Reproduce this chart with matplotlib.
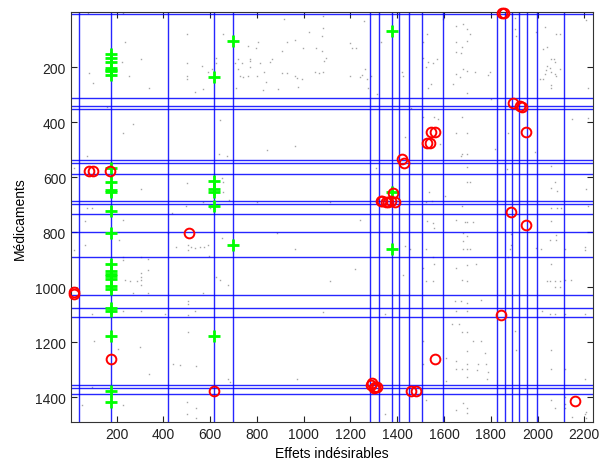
import matplotlib
matplotlib.use("Agg")
import matplotlib.pyplot as plt

plt.rcParams["font.family"] = ["Liberation Sans", "DejaVu Sans"]

# positions of the blue marker lines (columns = effets, rows = medicaments)
vlines_x = [41, 175, 421, 617, 699, 1285, 1322, 1378, 1409, 1451, 1506, 1595,
            1826, 1860, 1892, 1922, 1954, 1997, 2113]
hlines_y = [6, 313, 340, 352, 537, 549, 587, 685, 697, 733, 800, 891, 1027,
            1075, 1109, 1354, 1366, 1388]

# green "+" entries
green_x = [175, 175, 175, 175, 175, 175, 175,
           175, 175, 175, 175,
           175, 175, 175, 175, 175, 175, 175, 175, 175, 175, 175, 175, 175,
           175,
           617, 617, 617, 617, 617, 617,
           699, 699,
           1378, 1378, 1378]
green_y = [150, 166, 182, 204, 210, 214, 227,
           568, 616, 645, 655,
           721, 801, 916, 940, 950, 960, 970, 994, 1006, 1074, 1088, 1176, 1379,
           1416,
           234, 615, 643, 655, 703, 1179,
           103, 846,
           69, 652, 862]

# red "o" entries
red_x = [80, 101, 170, 510, 18, 18, 175, 617,
         1422, 1429, 1329, 1337, 1351, 1361, 1372, 1389, 1382,
         1846, 1858, 1895, 1924, 1934, 1952, 1546, 1563, 1527, 1542, 1885,
         1952, 1845, 1563, 2162,
         1287, 1294, 1301, 1304, 1315, 1458, 1479]
red_y = [576, 576, 576, 804, 1018, 1026, 1262, 1379,
         533, 548, 685, 685, 689, 691, 685, 689, 657,
         2, 2, 330, 342, 346, 436, 436, 436, 476, 476, 727,
         773, 1101, 1262, 1413,
         1355, 1349, 1367, 1361, 1361, 1379, 1379]

# grey background entries of the sparse matrix
grey_x = [77, 229, 503, 654, 236, 225, 305, 255, 80, 98, 339, 499, 499, 499,
          567, 590, 607, 571, 536, 624, 624, 707, 718, 738, 721, 728, 710, 740,
          269, 226, 643, 638, 671, 73, 305, 503, 650, 657, 640, 657, 682, 571,
          497, 73, 94, 436, 600, 18, 158,
          916, 1084, 1258, 1023, 1084, 1080, 806, 930, 963, 760, 798, 906, 999,
          1052, 1080, 1198, 1208, 1223, 1330, 771, 771, 814, 856, 864, 1094,
          1087, 771, 831, 762, 802, 906, 928, 963, 970, 995, 1049, 1066, 1083,
          1198, 1241, 1251, 1261, 1272, 1290, 841, 977, 824, 891, 1277, 1312,
          1419, 1425, 1458, 1434, 962, 845, 1311, 802, 1111,
          1596, 1650, 1681, 1700, 1710, 1529, 1510, 1650, 1700, 1679, 1653,
          1671, 1510, 1532, 1553, 1572, 1525, 1681, 1650, 1667, 1700, 1731,
          1788, 1795, 1546, 1532, 1639, 1700, 1905, 1902, 1907, 1992, 2031,
          2078, 2095, 2023, 2042, 2059, 2070, 2073, 2042, 2052, 2035, 2031,
          2059, 2073, 2080, 2095, 2009, 2023, 2056, 2059, 2209, 2216, 1510,
          1557, 1575, 1679, 1582, 1650, 1700, 1874, 1988, 1679, 1700, 1674,
          1817, 1700, 1871, 2056, 1700, 1710, 1536, 1603, 1525, 1550, 1679,
          2076, 2056, 2085, 2056, 2085, 2102, 2209, 1800, 2216, 2147, 2216,
          65, 226, 18, 63, 212, 226, 226, 305, 305, 305, 333, 236, 258, 286,
          305, 269, 333, 454, 504, 519, 504, 536, 557, 574, 590, 650, 624, 643,
          675, 571, 504, 504, 536, 226, 305, 94, 407, 504, 105, 208, 300, 504,
          339, 443, 472, 540, 678, 685, 94, 226, 51, 500, 540, 500, 540, 305,
          333, 597, 419,
          1240, 888, 962, 1218, 1111, 1084, 970, 1347, 1347, 1433, 1453, 1423,
          1529, 1553, 1557, 1650, 1689, 1700, 1724, 1681, 1700, 1681, 1681,
          1700, 1710, 1525, 1553, 1557, 1510, 1525, 1553, 1679, 1700, 1650,
          1700, 1738, 1646, 1674, 1700, 1757, 1650, 1700, 1636, 1664, 1679,
          1700, 1724, 1760, 1700, 1774, 1650, 1700, 1746, 1781, 1650, 1679,
          1700, 1743, 1788, 1700, 1785, 1607, 1607, 1510, 1510, 1525, 1681,
          1700, 1700, 1650, 1885, 1885, 1881, 1874, 1902, 1907, 1995, 2016,
          2059, 2078, 2078, 2052, 2116, 2202, 2202, 2059, 2052, 2073, 2095,
          2073, 2095, 2042, 2116, 2145, 2019, 2052, 2073, 2116, 2202, 2056,
          2056, 2116, 2202, 2056, 2073, 2116, 2116, 2116, 2147, 2202, 2209,
          2209]
grey_y = [3, 3, 79, 79, 107, 180, 170, 230, 221, 257, 275, 186, 230, 243,
          196, 216, 206, 279, 291, 167, 186, 184, 170, 184, 206, 230, 275, 236,
          406, 440, 392, 515, 521, 521, 642, 621, 604, 618, 649, 652, 681, 689,
          706, 710, 710, 730, 710, 567, 346,
          24, 15, 30, 73, 57, 85, 107, 107, 100, 121, 131, 140, 130, 130, 140,
          112, 131, 131, 107, 170, 178, 186, 180, 170, 167, 178, 200, 216, 230,
          230, 221, 221, 230, 239, 243, 216, 221, 216, 230, 236, 228, 206, 243,
          230, 252, 270, 281, 279, 275, 297, 216, 230, 349, 452, 487, 501, 567,
          689, 689,
          24, 49, 43, 61, 79, 79, 109, 109, 103, 125, 146, 149, 167, 182, 186,
          170, 200, 206, 224, 236, 212, 216, 228, 218, 261, 276, 261, 293, 22,
          61, 85, 73, 55, 79, 79, 133, 127, 170, 170, 182, 194, 204, 209, 224,
          216, 224, 230, 206, 243, 243, 264, 276, 28, 275, 382, 382, 388, 382,
          479, 440, 440, 440, 507, 515, 515, 521, 497, 564, 570, 560, 616, 616,
          652, 669, 689, 685, 706, 616, 640, 649, 712, 712, 712, 643, 315, 703,
          388, 386,
          759, 755, 864, 846, 828, 889, 901, 949, 961, 973, 937, 973, 977, 977,
          992, 1022, 1022, 852, 846, 852, 864, 858, 852, 852, 846, 822, 961,
          973, 992, 1022, 1050, 1062, 1086, 1088, 1088, 1097, 1098, 1101, 1195,
          1224, 1219, 1161, 1316, 1279, 1282, 1285, 1333, 1343, 1364, 1428,
          1428, 1416, 1440, 1462, 1476, 889, 897, 885, 804,
          755, 801, 862, 933, 977, 1091, 1333, 1098, 1462, 850, 862, 955,
          759, 767, 785, 755, 761, 761, 761, 804, 812, 832, 862, 862, 862, 862,
          889, 916, 929, 977, 977, 973, 977, 929, 919, 916, 1050, 1050, 1058,
          1046, 1088, 1088, 1135, 1135, 1161, 1164, 1195, 1195, 1232, 1240,
          1270, 1280, 1280, 1280, 1297, 1297, 1297, 1301, 1309, 1328, 1333,
          1258, 1341, 1195, 1280, 1410, 1422, 1440, 1458, 1446, 807, 846, 862,
          889, 1159, 1228, 858, 862, 759, 810, 828, 828, 862, 852, 864, 916,
          977, 977, 977, 998, 998, 977, 973, 973, 1088, 1098, 1098, 1098, 1098,
          1228, 1297, 1297, 1333, 1410, 1440, 1398, 1425, 1438, 1473, 1462,
          1452, 1474]

fig = plt.figure(figsize=(5.99, 4.64), dpi=100)
ax = fig.add_axes([0.1185, 0.0884, 0.8710, 0.8829])

ax.plot(grey_x, grey_y, ls="none", marker="s", ms=1.0, mew=0,
        color="#a6a6a6", zorder=1)

for x in vlines_x:
    ax.axvline(x, color="#0000ff", lw=1.0, alpha=0.85, zorder=2)
for y in hlines_y:
    ax.axhline(y, color="#0000ff", lw=1.0, alpha=0.85, zorder=2)

ax.plot(green_x, green_y, ls="none", marker="+", ms=8, mew=2.0,
        color="#00ff00", zorder=3, clip_on=False)
ax.plot(red_x, red_y, ls="none", marker="o", ms=7, mew=1.4,
        mfc="none", mec="#ff0000", zorder=4, clip_on=False)

ax.set_xlim(5, 2236)
ax.set_ylim(1490, 0)
ax.set_xticks(range(200, 2201, 200))
ax.set_yticks(range(200, 1401, 200))
ax.tick_params(direction="in", top=True, right=True, length=4, width=0.8,
               labelsize=10, colors="#222222")
for s in ax.spines.values():
    s.set_color("#333333")
    s.set_linewidth(0.8)

ax.set_xlabel("Effets indésirables", fontsize=10, labelpad=4)
ax.set_ylabel("Médicaments", fontsize=10, labelpad=6)

fig.savefig("out.png", dpi=100)
